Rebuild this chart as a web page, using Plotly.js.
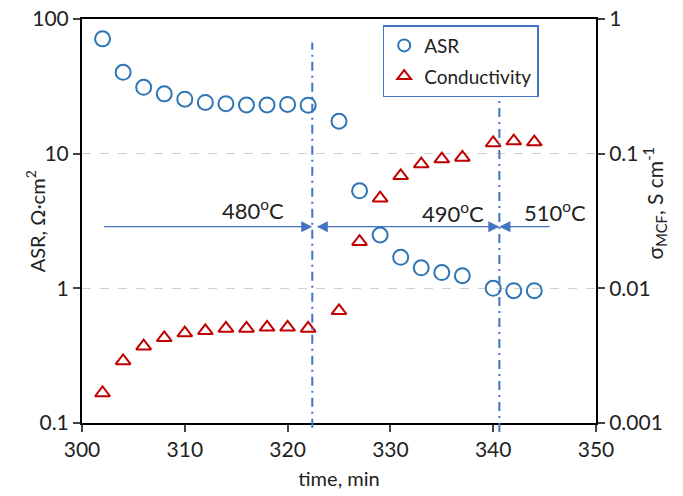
<!DOCTYPE html>
<html>
<head>
<meta charset="utf-8">
<script src="https://cdn.plot.ly/plotly-3.0.1.min.js"></script>
<style>html,body{margin:0;padding:0;background:#fff;}#chart{width:683px;height:496px;}</style>
</head>
<body>
<div id="chart"></div>
<script>
// ---- data ----
const time = [302,304,306,308,310,312,314,316,318,320,322,325,327,329,331,333,335,337,340,342,344];
const asr = [71.2,40.2,31.1,27.8,25.4,24.0,23.5,23.0,23.0,23.2,22.9,17.4,5.3,2.49,1.70,1.42,1.31,1.24,1.0,0.96,0.96];
const conductivity = [0.00167,0.00289,0.00372,0.00429,0.00465,0.00484,0.00504,0.00504,0.00513,0.00513,0.00504,0.00681,0.0222,0.0467,0.0685,0.0837,0.0912,0.0937,0.120,0.124,0.122];
const seriesNames = ['ASR','Conductivity'];
const xTicks = [300,310,320,330,340,350];
const yLeftTicks = [0.1,1,10,100];
const yLeftText = ['0.1','1','10','100'];
const yRightTicks = [0.001,0.01,0.1,1];
const yRightText = ['0.001','0.01','0.1','1'];
// temperature change markers (time, min) and annotation labels
const stepTimes = [322.4, 340.6];
const arrowStart = 302, arrowEnd = 345.65, arrowLevel = 2.87;
const tempLabels = ['480<sup>o</sup>C','490<sup>o</sup>C','510<sup>o</sup>C'];
const tempLabelX = [316.6, 336.1, 346.0];
const tempLabelY = [3.83, 3.63, 3.69];

const FONT = 'Lato, "Open Sans", sans-serif';
const blue = '#2E75B6', red = '#C00000', lineBlue = '#4472C4';

const traces = [
  {x: time, y: asr, name: seriesNames[0], type: 'scatter', mode: 'markers', yaxis: 'y', legendgroup: 'a',
   marker: {symbol: 'circle-open', size: 15, color: blue, line: {width: 2, color: blue}}},
  {x: time, y: conductivity, name: seriesNames[1], type: 'scatter', mode: 'markers', yaxis: 'y2', legendgroup: 'b',
   marker: {symbol: 'triangle-up-open', size: 13, color: red, line: {width: 2, color: red}}}
];

const L = v => Math.log10(v);
const annotations = [
  {x: stepTimes[0], y: L(arrowLevel), ax: arrowStart, ay: L(arrowLevel), xref: 'x', yref: 'y', axref: 'x', ayref: 'y',
   text: '', showarrow: true, arrowhead: 2, arrowsize: 1.7, arrowwidth: 1.3, arrowcolor: lineBlue},
  {x: stepTimes[1], y: L(arrowLevel), ax: stepTimes[0], ay: L(arrowLevel), xref: 'x', yref: 'y', axref: 'x', ayref: 'y',
   text: '', showarrow: true, arrowhead: 2, startarrowhead: 2, arrowside: 'end+start', arrowsize: 1.7, startarrowsize: 1.7,
   startstandoff: 3, arrowwidth: 1.3, arrowcolor: lineBlue},
  {x: stepTimes[1], y: L(arrowLevel), ax: arrowEnd, ay: L(arrowLevel), xref: 'x', yref: 'y', axref: 'x', ayref: 'y',
   text: '', showarrow: true, arrowhead: 2, arrowsize: 1.7, arrowwidth: 1.3, arrowcolor: lineBlue},
  {x: -0.12, y: 0.5, xref: 'paper', yref: 'paper', text: 'ASR, Ω·cm<sup>2</sup>', textangle: -90, showarrow: false,
   font: {family: FONT, size: 20, color: '#222'}},
  {x: 1.148, y: 0.545, xref: 'paper', yref: 'paper', text: 'σ<sub>MCF</sub>, S cm<sup>-1</sup>', textangle: -90, showarrow: false,
   font: {family: FONT, size: 21, color: '#222'}}
];
tempLabels.forEach((t, i) => annotations.push({
  x: tempLabelX[i], y: L(tempLabelY[i]), xref: 'x', yref: 'y', text: t, showarrow: false,
  font: {family: FONT, size: 22, color: '#222'}
}));

const shapes = [
  {type: 'line', xref: 'x', yref: 'paper', x0: stepTimes[0], x1: stepTimes[0], y0: -0.012, y1: 0.942,
   line: {color: lineBlue, width: 2, dash: '9px,5px,2px,5px'}},
  {type: 'line', xref: 'x', yref: 'paper', x0: stepTimes[1], x1: stepTimes[1], y0: -0.022, y1: 0.929,
   line: {color: lineBlue, width: 2, dash: '9px,5px,2px,5px'}}
];

const layout = {
  width: 683, height: 496,
  margin: {l: 82, r: 87, t: 19, b: 73},
  paper_bgcolor: '#fff', plot_bgcolor: '#fff',
  font: {family: FONT, size: 21, color: '#222'},
  showlegend: true,
  legend: {x: 0.585, y: 0.985, xanchor: 'left', yanchor: 'top', bgcolor: '#fff',
    bordercolor: lineBlue, borderwidth: 1.5, font: {family: FONT, size: 19, color: '#222'},
    tracegroupgap: 3, itemsizing: 'constant'},
  xaxis: {range: [300, 350], tickvals: xTicks, ticks: 'outside', ticklen: 7, tickwidth: 2,
    showline: true, linewidth: 2, linecolor: '#000', mirror: true, showgrid: false, zeroline: false,
    tickfont: {family: FONT, size: 21, color: '#222'},
    title: {text: 'time, min', font: {family: FONT, size: 20, color: '#222'}, standoff: 12}},
  yaxis: {type: 'log', range: [-1, 2], tickvals: yLeftTicks, ticktext: yLeftText, ticks: 'outside', ticklen: 7, tickwidth: 2,
    showline: true, linewidth: 2, linecolor: '#000', showgrid: true, gridcolor: '#D0D0D0', griddash: 'dash', gridwidth: 1,
    zeroline: false, tickfont: {family: FONT, size: 21, color: '#222'}},
  yaxis2: {type: 'log', range: [-3, 0], overlaying: 'y', side: 'right', tickvals: yRightTicks, ticktext: yRightText,
    ticks: 'outside', ticklen: 7, tickwidth: 2, showline: true, linewidth: 2, linecolor: '#000', showgrid: false,
    zeroline: false, tickfont: {family: FONT, size: 21, color: '#222'}},
  annotations: annotations,
  shapes: shapes
};

Plotly.newPlot('chart', traces, layout, {displayModeBar: false, staticPlot: true});
</script>
</body>
</html>
